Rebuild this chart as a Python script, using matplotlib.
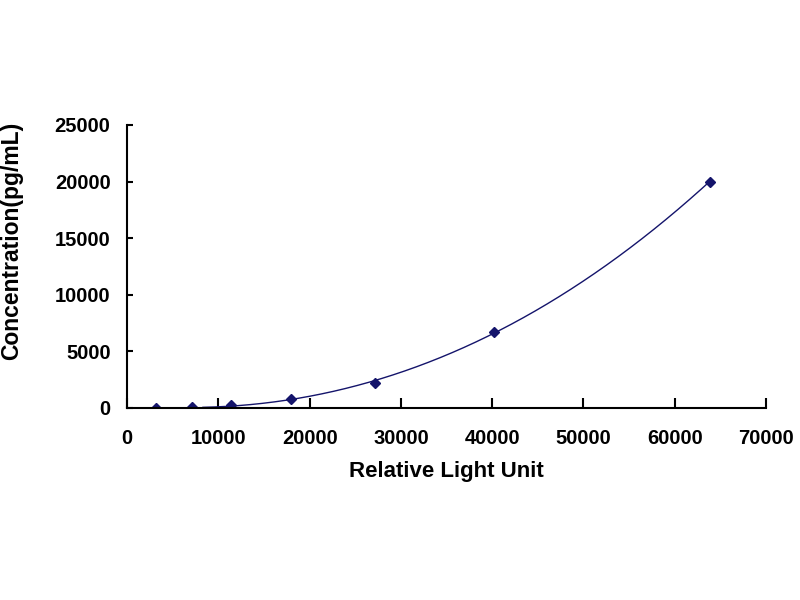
import numpy as np
import matplotlib
matplotlib.use('Agg')
import matplotlib.pyplot as plt

# standard curve data
rlu = [3140, 7120, 11360, 17970, 27100, 40150, 63840]  # Relative Light Unit
conc = [0, 82, 247, 741, 2222, 6667, 20000]  # Concentration (pg/mL)

xticks = [0, 10000, 20000, 30000, 40000, 50000, 60000, 70000]
yticks = [0, 5000, 10000, 15000, 20000, 25000]

navy = '#14146b'

plt.rcParams['font.family'] = ['Liberation Sans', 'DejaVu Sans']
plt.rcParams['font.weight'] = 'bold'

fig = plt.figure(figsize=(8, 6), dpi=100)
ax = fig.add_axes([0.159, 0.3205, 0.7985, 0.4712])

# smooth trend curve fitted through the standards (cubic polynomial)
coef = np.polyfit(rlu, conc, 3)
xs = np.linspace(8300, rlu[-1], 300)
ax.plot(xs, np.polyval(coef, xs), color=navy, lw=1.0)
ax.plot(rlu, conc, linestyle='none', marker='D', ms=5, color=navy)

ax.set_xlim(0, 70000)
ax.set_ylim(0, 25000)
ax.set_xticks(xticks)
ax.set_yticks(yticks)
ax.spines['top'].set_visible(False)
ax.spines['right'].set_visible(False)
for s in ['left', 'bottom']:
    ax.spines[s].set_linewidth(1.5)
ax.tick_params(axis='x', direction='in', length=7, width=1.5, pad=15, labelsize=14.5)
ax.tick_params(axis='y', direction='in', length=4, width=1.5, pad=12, labelsize=14.5)
for lab in ax.get_xticklabels() + ax.get_yticklabels():
    lab.set_fontweight('bold')

ax.set_xlabel('Relative Light Unit', fontsize=16, fontweight='bold', labelpad=10)
fig.text(12 / 800, 1 - 241 / 600, 'Concentration(pg/mL)', rotation=90, fontsize=16.5,
         fontweight='bold', ha='center', va='center')

fig.savefig('out.png', dpi=100)
